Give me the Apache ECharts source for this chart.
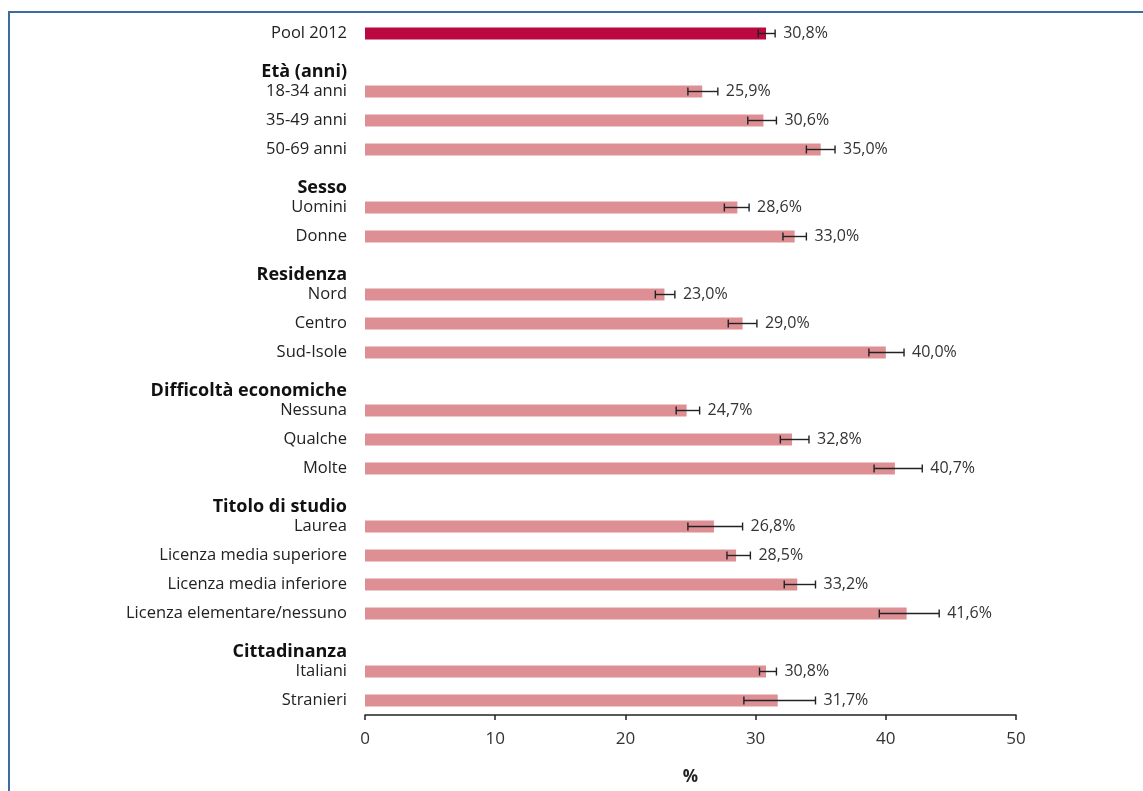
<!DOCTYPE html>
<html>
<head>
<meta charset="utf-8">
<script src="https://cdn.jsdelivr.net/npm/echarts@6/dist/echarts.min.js"></script>
<style>
html,body{margin:0;padding:0;background:#fff;}
#chart{width:1143px;height:791px;position:absolute;left:0;top:0;}
#frame{position:absolute;left:8px;top:11px;width:1200px;height:900px;border-top:2px solid #3d6c9e;border-left:2px solid #3d6c9e;pointer-events:none;}
</style>
</head>
<body>
<div id="chart"></div>
<div id="frame"></div>
<script>
const categories = ["Pool 2012","Età (anni)","18-34 anni","35-49 anni","50-69 anni","Sesso","Uomini","Donne","Residenza","Nord","Centro","Sud-Isole","Difficoltà economiche","Nessuna","Qualche","Molte","Titolo di studio","Laurea","Licenza media superiore","Licenza media inferiore","Licenza elementare/nessuno","Cittadinanza","Italiani","Stranieri"];
const headers = ["Età (anni)","Sesso","Residenza","Difficoltà economiche","Titolo di studio","Cittadinanza"];
const values = [30.8,null,25.9,30.6,35.0,null,28.6,33.0,null,23.0,29.0,40.0,null,24.7,32.8,40.7,null,26.8,28.5,33.2,41.6,null,30.8,31.7];
const lower  = [30.2,null,24.8,29.4,33.9,null,27.6,32.1,null,22.3,27.9,38.7,null,23.9,31.9,39.1,null,24.8,27.8,32.2,39.5,null,30.3,29.1];
const upper  = [31.5,null,27.1,31.6,36.1,null,29.5,33.9,null,23.8,30.1,41.4,null,25.7,34.1,42.8,null,29.0,29.6,34.6,44.1,null,31.6,34.6];
const xTicks = [0,10,20,30,40,50];
const xTitle = "%";

const chart = echarts.init(document.getElementById('chart'));
const fontFam = "'Open Sans', sans-serif";

const barData = values.map((v,i)=>({value:v, itemStyle:{color: i===0 ? '#BA0840' : '#DE8F94'}}));
const errData = values.map((v,i)=> v==null ? [i,null,null,null] : [i, lower[i], upper[i], v]);

chart.setOption({
  animation:false,
  grid:{left:365, right:127, top:19, bottom:73, containLabel:false},
  xAxis:{
    type:'value', min:xTicks[0], max:xTicks[xTicks.length-1], interval:10,
    name:xTitle, nameLocation:'middle', nameGap:54,
    nameTextStyle:{fontFamily:fontFam, fontSize:17, fontWeight:'bold', color:'#222'},
    axisLine:{show:true, lineStyle:{color:'#222', width:1.5}},
    axisTick:{show:true, length:5, lineStyle:{color:'#222', width:1.5}},
    axisLabel:{fontFamily:fontFam, fontSize:17, color:'#333', margin:16},
    splitLine:{show:false}
  },
  yAxis:{
    type:'category', data:categories, inverse:true,
    axisLine:{show:false}, axisTick:{show:false},
    axisLabel:{
      margin:18, fontFamily:fontFam, fontSize:16.5, color:'#222',
      formatter:(v)=> headers.includes(v) ? '{h|'+v+'}' : v,
      rich:{h:{fontFamily:fontFam, fontSize:18, fontWeight:'bold', color:'#111', padding:[18,0,0,0]}}
    }
  },
  series:[
    {
      type:'bar', data:barData, barWidth:12, silent:true
    },
    {
      type:'custom', silent:true,
      encode:{y:0, x:[1,2]},
      data:errData,
      renderItem:(params, api)=>{
        const lo = api.value(1), hi = api.value(2), v = api.value(3);
        if (lo==null || isNaN(lo)) return null;
        const idx = api.value(0);
        const p1 = api.coord([lo, idx]);
        const p2 = api.coord([hi, idx]);
        const h = 4;
        const st = {stroke:'#222', lineWidth:1.4};
        return {type:'group', children:[
          {type:'line', shape:{x1:p1[0],y1:p1[1],x2:p2[0],y2:p2[1]}, style:st},
          {type:'line', shape:{x1:p1[0],y1:p1[1]-h,x2:p1[0],y2:p1[1]+h}, style:st},
          {type:'line', shape:{x1:p2[0],y1:p2[1]-h,x2:p2[0],y2:p2[1]+h}, style:st},
          {type:'text', x:p2[0]+8, y:p2[1], style:{text:v.toFixed(1).replace('.',',')+'%', fill:'#333', font:'16px '+fontFam, textVerticalAlign:'middle', textAlign:'left'}}
        ]};
      },
      z:5
    }
  ]
});
</script>
</body>
</html>
